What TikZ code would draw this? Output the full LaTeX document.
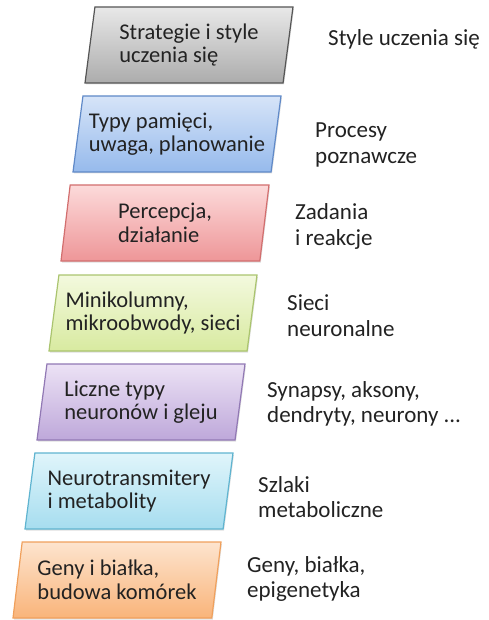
\documentclass[tikz,border=0pt]{standalone}
\usepackage{fontspec}
\setmainfont{Carlito}
\usetikzlibrary{shapes.geometric, shadows}
\definecolor{txtdark}{RGB}{34,34,34}
\definecolor{strattop}{RGB}{232,232,232}
\definecolor{stratbot}{RGB}{172,172,172}
\definecolor{stratline}{RGB}{85,85,85}
\definecolor{pamtop}{RGB}{214,228,248}
\definecolor{pambot}{RGB}{150,186,236}
\definecolor{pamline}{RGB}{95,137,200}
\definecolor{perctop}{RGB}{252,218,218}
\definecolor{percbot}{RGB}{238,150,152}
\definecolor{percline}{RGB}{210,110,110}
\definecolor{koltop}{RGB}{243,249,222}
\definecolor{kolbot}{RGB}{216,234,160}
\definecolor{kolline}{RGB}{170,196,110}
\definecolor{neurtop}{RGB}{236,226,245}
\definecolor{neurbot}{RGB}{190,168,218}
\definecolor{neurline}{RGB}{145,120,180}
\definecolor{mettop}{RGB}{224,245,251}
\definecolor{metbot}{RGB}{166,221,239}
\definecolor{metline}{RGB}{95,180,208}
\definecolor{gentop}{RGB}{253,228,206}
\definecolor{genbot}{RGB}{249,180,122}
\definecolor{genline}{RGB}{240,160,92}
\tikzset{
  lvl/.style={
    trapezium, trapezium left angle=78, trapezium right angle=102,
    trapezium stretches body,
    draw=#1line, line width=1.2pt, top color=#1top, bottom color=#1bot,
    minimum width=208pt, minimum height=76pt, inner sep=2pt,
    font=\fontsize{22.5}{23.5}\selectfont, text=txtdark, align=left,
    drop shadow={opacity=0.25, shadow xshift=1pt, shadow yshift=-1.5pt},
  },
  desc/.style={
    anchor=west, inner sep=0pt, align=left, text=txtdark,
    font=\fontsize{23}{25.5}\selectfont,
  },
}

\begin{document}
\begin{tikzpicture}[x=1pt, y=-1pt]
\useasboundingbox (0,0) rectangle (489,620);

% =====================================================================
%  LEVELS (parallelograms, top to bottom)
% =====================================================================
\node[lvl=strat] (strat) at (189, 45)  {Strategie i style\\uczenia się};
\node[lvl=pam]   (pam)   at (177, 134) {Typy pamięci,\\uwaga, planowanie};
\node[lvl=perc]  (perc)  at (165, 223) {Percepcja,\\działanie};
\node[lvl=kol]   (kol)   at (153, 313) {Minikolumny,\\mikroobwody, sieci};
\node[lvl=neur]  (neur)  at (141, 402) {Liczne typy\\neuronów i gleju};
\node[lvl=met]   (met)   at (129, 491) {Neurotransmitery\\i metabolity};
\node[lvl=gen]   (gen)   at (117, 580) {Geny i białka,\\budowa komórek};

% =====================================================================
%  DESCRIPTIONS (right column)
% =====================================================================
\node[desc] (dstrat) at (328, 39.5) {Style uczenia się};
\node[desc] (dpam)   at (315, 145)  {Procesy\\poznawcze};
\node[desc] (dperc)  at (295, 226.5) {Zadania\\i reakcje};
\node[desc] (dkol)   at (287, 315.5) {Sieci\\neuronalne};
\node[desc] (dneur)  at (267, 404)  {Synapsy, aksony,\\dendryty, neurony ...};
\node[desc] (dmet)   at (258, 497)  {Szlaki\\metaboliczne};
\node[desc] (dgen)   at (247, 579)  {Geny, białka,\\epigenetyka};

\end{tikzpicture}
\end{document}
